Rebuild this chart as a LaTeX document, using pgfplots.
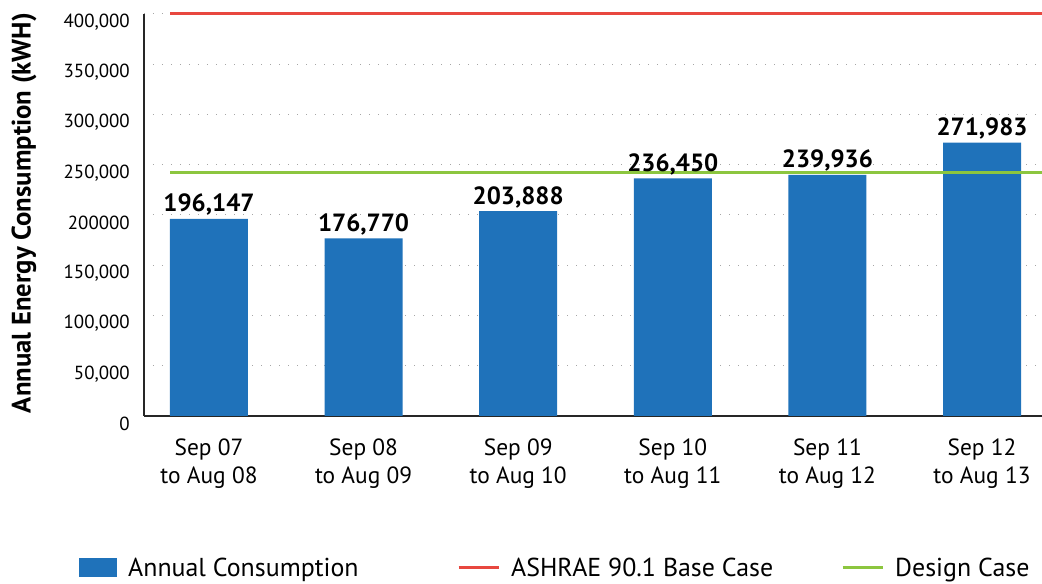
\documentclass[border=0pt]{standalone}
\usepackage{pgfplots}
\pgfplotsset{compat=1.18}
\usepackage{fontspec}
\setmainfont{PT Sans}
\definecolor{barblue}{HTML}{1F72BA}
\definecolor{basered}{HTML}{E8473F}
\definecolor{designgreen}{HTML}{8CC63F}
\begin{document}
\begin{tikzpicture}[x=1bp,y=1bp]
\useasboundingbox (-144,-168) rectangle (898,416);
\begin{axis}[
  at={(0,0)}, anchor=south west,
  scale only axis, width=898bp, height=402bp,
  xmin=-0.4204, xmax=5.388,
  ymin=0, ymax=400000,
  clip=false,
  axis x line*=bottom, axis y line*=left,
  axis line style={line width=1.3bp, -, black!85},
  /pgf/number format/assume math mode=true,
  scaled y ticks=false,
  ytick={0,50000,100000,150000,200000,250000,300000,350000,400000},
  yticklabels={0,{50,000},{100,000},{150,000},200000,{250,000},{300,000},{350,000},{400,000}},
  yticklabel style={font=\fontsize{19}{22}\selectfont, anchor=east, inner sep=0pt, xshift=-14bp, yshift=-8bp},
  xtick={0,1,2,3,4,5},
  xticklabels={{Sep 07\\to Aug 08},{Sep 08\\to Aug 09},{Sep 09\\to Aug 10},{Sep 10\\to Aug 11},{Sep 11\\to Aug 12},{Sep 12\\to Aug 13}},
  xticklabel style={font=\fontsize{23.5}{27.5}\selectfont, align=center, anchor=north, inner sep=0pt, yshift=-23bp},
  major tick length=0pt,
  ymajorgrids,
  grid style={dash pattern=on 1.2bp off 7.8bp, black!35, line width=1bp},
  every axis y label/.style={at={(axis description cs:-0.1336,0.505)}, rotate=90, anchor=center, font=\fontsize{26.8}{31}\selectfont\bfseries},
  ylabel={Annual Energy Consumption (kWH)},
  legend columns=3,
  legend style={at={(axis description cs:-0.0724,-0.378)}, anchor=west, draw=none, fill=none, inner sep=0pt,
    nodes={inner sep=0pt}, cells={anchor=west}, font=\fontsize{26}{30}\selectfont,
    /tikz/every odd column/.append style={column sep=11bp}},
]
\addplot[ybar, bar width=78bp, fill=barblue, draw=none,
  legend image code/.code={\fill[barblue] (0bp,-9.5bp) rectangle (38bp,9.5bp);},
  nodes near coords={\pgfmathprintnumber[fixed,precision=0,1000 sep={,},assume math mode=true]{\pgfplotspointmeta}},
  nodes near coords style={anchor=base, yshift=7bp, inner sep=0pt, font=\fontsize{25}{30}\selectfont\bfseries, black}]
  coordinates {(0,196147) (1,176770) (2,203888) (3,236450) (4,239936) (5,271983)};
\addlegendentry{\makebox[329bp][l]{Annual Consumption}}
\addplot[basered, line width=3bp,
  legend image code/.code={\draw[basered, line width=3bp] (0bp,0bp) -- (40bp,0bp);}]
  coordinates {(-0.252,400000) (5.388,400000)};
\addlegendentry{\makebox[330bp][l]{ASHRAE 90.1 Base Case}}
\addplot[designgreen, line width=3bp,
  legend image code/.code={\draw[designgreen, line width=3bp] (0bp,0bp) -- (40bp,0bp);}]
  coordinates {(-0.252,242500) (5.388,242500)};
\addlegendentry{Design Case}
\end{axis}
\end{tikzpicture}
\end{document}
